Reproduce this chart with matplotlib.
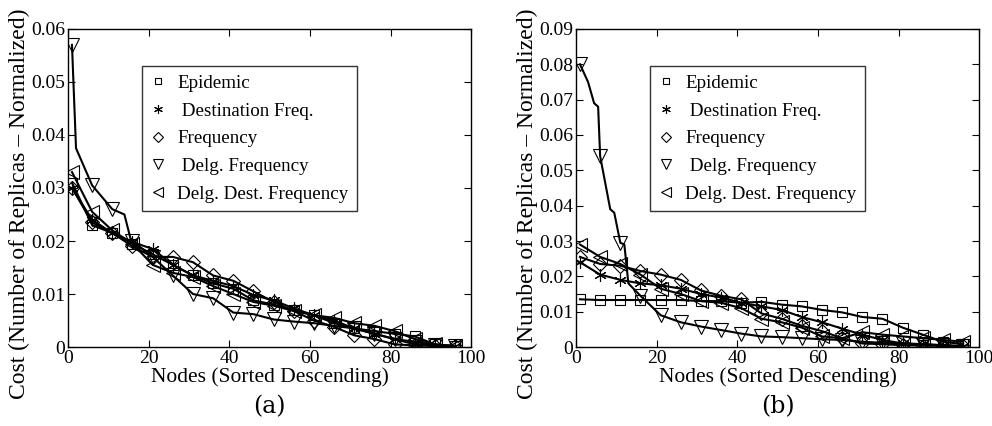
import numpy as np
import matplotlib.pyplot as plt

# positions des marqueurs (tous les 5 noeuds)
nodes = np.arange(1, 97, 5)

labels = ['Epidemic', ' Destination Freq.', 'Frequency', ' Delg. Frequency', 'Delg. Dest. Frequency']
markers = ['s', (6, 2, 0), 'D', 'v', '<']
sizes = [7, 9, 7, 10, 10]

# panneau (a)
a_epidemic = [0.031, 0.023, 0.0215, 0.0195, 0.0175, 0.0155, 0.0135, 0.012, 0.011, 0.0088,
              0.008, 0.007, 0.006, 0.0045, 0.0035, 0.003, 0.0025, 0.002, 0.0005, 0.0002]
a_dest_freq = [0.030, 0.024, 0.0215, 0.0198, 0.0185, 0.0155, 0.0135, 0.0125, 0.0115, 0.0098,
               0.0088, 0.0073, 0.006, 0.005, 0.0035, 0.0025, 0.0015, 0.0005, 0.0002, 0.0001]
a_freq = [0.030, 0.0235, 0.0215, 0.019, 0.017, 0.017, 0.016, 0.0135, 0.0125, 0.0105,
          0.0085, 0.0068, 0.005, 0.0038, 0.0022, 0.0015, 0.0005, 0.0003, 0.0002, 0.0001]
a_delg_freq = [0.057, 0.0305, 0.026, 0.020, 0.017, 0.0135, 0.010, 0.0092, 0.0065, 0.0062,
               0.0052, 0.0048, 0.0045, 0.004, 0.0035, 0.0025, 0.0015, 0.001, 0.0003, 0.0001]
a_delg_dest = [0.033, 0.0255, 0.022, 0.0195, 0.0155, 0.014, 0.0132, 0.0115, 0.010, 0.0085,
               0.0078, 0.0068, 0.006, 0.0055, 0.0045, 0.004, 0.003, 0.0015, 0.0005, 0.0002]
# points de la courbe entre les marqueurs (Delg. Frequency)
a_knots_x = [2, 4, 14, 15.5]
a_knots_y = [0.0375, 0.034, 0.025, 0.0205]

# panneau (b)
b_epidemic = [0.0135, 0.0133, 0.0133, 0.0133, 0.0133, 0.0133, 0.013, 0.013, 0.0125, 0.0128,
              0.012, 0.0115, 0.0105, 0.0098, 0.0085, 0.008, 0.0055, 0.0035, 0.0015, 0.0008]
b_dest_freq = [0.024, 0.0205, 0.019, 0.018, 0.0175, 0.0165, 0.015, 0.014, 0.0125, 0.0115,
               0.0105, 0.0085, 0.007, 0.0052, 0.0035, 0.002, 0.001, 0.0008, 0.0005, 0.0002]
b_freq = [0.0255, 0.0235, 0.023, 0.0215, 0.0205, 0.019, 0.016, 0.0145, 0.0135, 0.0095,
          0.008, 0.006, 0.0045, 0.0025, 0.001, 0.0008, 0.0005, 0.0004, 0.0003, 0.0002]
b_delg_freq = [0.080, 0.054, 0.0295, 0.0145, 0.009, 0.007, 0.0058, 0.0048, 0.0038, 0.003,
               0.0028, 0.0025, 0.0022, 0.002, 0.0015, 0.0012, 0.001, 0.0008, 0.0005, 0.0003]
b_delg_dest = [0.029, 0.0255, 0.0235, 0.0205, 0.0165, 0.015, 0.013, 0.0125, 0.011, 0.008,
               0.007, 0.0055, 0.003, 0.0025, 0.0042, 0.0035, 0.003, 0.0025, 0.002, 0.0015]
b_knots_x = [3, 4.5, 5.5, 7.5, 8.5, 9.5, 12, 13]
b_knots_y = [0.075, 0.069, 0.068, 0.045, 0.039, 0.038, 0.029, 0.018]

plt.rcParams['font.family'] = ['Liberation Serif', 'DejaVu Serif']

fig = plt.figure(figsize=(9.92, 4.26), dpi=100)
ax1 = fig.add_axes([0.0685, 0.1854, 0.4065, 0.7466])
ax2 = fig.add_axes([0.5806, 0.1854, 0.4065, 0.7466])


def trace(ax, series, knots_x, knots_y, ymax, yticks, name):
    for i, y in enumerate(series):
        lx = list(nodes)
        ly = list(y)
        if i == 3:
            lx = lx + knots_x
            ly = ly + knots_y
            order = np.argsort(lx)
            lx = list(np.array(lx)[order])
            ly = list(np.array(ly)[order])
        ax.plot(lx, ly, color='black', lw=1.5, zorder=2)
        ax.plot(nodes, y, ls='none', marker=markers[i], ms=sizes[i],
                mfc='none', mec='black', mew=0.8, label=labels[i], zorder=3)
    ax.set_xlim(0, 100)
    ax.set_ylim(0, ymax)
    ax.set_xticks([0, 20, 40, 60, 80, 100])
    ax.set_yticks(yticks)
    ax.set_yticklabels(['0'] + ['%.2f' % t for t in yticks[1:]])
    ax.tick_params(direction='in', top=True, right=True, labelsize=14, length=5, pad=2)
    for s in ax.spines.values():
        s.set_linewidth(1.0)
    ax.set_xlabel('Nodes (Sorted Descending)', fontsize=15.5, labelpad=0)
    ax.set_ylabel('Cost (Number of Replicas \u2013 Normalized)', fontsize=17)
    ax.yaxis.set_label_coords(-0.095, 0.45)
    leg = ax.legend(loc='upper left', bbox_to_anchor=(0.184, 0.884), borderaxespad=0,
                    fontsize=13.7, frameon=True, fancybox=False, edgecolor='black',
                    handlelength=0.8, handletextpad=0.6, borderpad=0.45, labelspacing=0.55,
                    markerscale=0.7)
    leg.get_frame().set_linewidth(1.0)
    ax.text(0.5, -0.15, name, transform=ax.transAxes, ha='center', va='top',
            fontsize=17, family='DejaVu Serif')


trace(ax1, [a_epidemic, a_dest_freq, a_freq, a_delg_freq, a_delg_dest], a_knots_x, a_knots_y,
      0.06, [0, 0.01, 0.02, 0.03, 0.04, 0.05, 0.06], '(a)')
trace(ax2, [b_epidemic, b_dest_freq, b_freq, b_delg_freq, b_delg_dest], b_knots_x, b_knots_y,
      0.09, [0, 0.01, 0.02, 0.03, 0.04, 0.05, 0.06, 0.07, 0.08, 0.09], '(b)')

fig.savefig('out.png', dpi=100)
